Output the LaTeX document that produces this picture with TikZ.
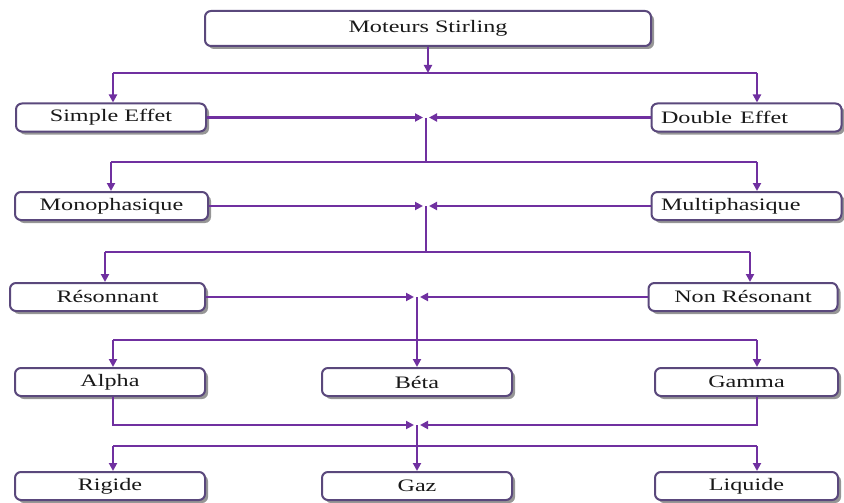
\documentclass[tikz,border=0pt]{standalone}
\usepackage{fontspec}
\setmainfont{Liberation Serif}
\usepackage{graphicx}
\usetikzlibrary{
    arrows.meta,
    shadows,
    positioning
}
\definecolor{linkpurple}{RGB}{112,48,160}
\definecolor{boxborder}{RGB}{90,72,124}
\definecolor{boxshadow}{RGB}{150,150,150}
\newcommand{\hstretch}[1]{\scalebox{1.38}[1]{#1}}
\tikzset{
    % Box styles
    type box/.style={
        draw=boxborder,
        fill=white,
        line width=2pt,
        rounded corners=6pt,
        minimum height=28pt,
        minimum width=190pt,
        inner sep=0pt,
        text=black!90,
        font=\fontsize{17.5}{20}\selectfont,
        drop shadow={shadow xshift=3pt, shadow yshift=-3pt, fill=boxshadow, opacity=1}
    },
    left text/.style={
        inner xsep=6pt,
        text width=#1,
        align=left
    },
    % Arrow styles
    link/.style={
        linkpurple,
        line width=2.2pt
    },
    link arrow/.style={
        link,
        -{Triangle[length=8pt,width=8pt]}
    }
}

\begin{document}
\begin{tikzpicture}[x=1pt,y=-1pt]
        \useasboundingbox (0,0) rectangle (844,503);

        % Define nodes
        \node[type box, minimum width=446pt, minimum height=35pt] (stirling) at (428,28.5) {\hstretch{Moteurs Stirling}};
        \node[type box] (simple) at (111,117.5) {\hstretch{Simple Effet}};
        \node[type box, left text=171pt] (double) at (746.5,117.5) {\hstretch{Double Effet}};
        \node[type box, minimum width=193pt] (mono) at (111.5,206) {\hstretch{Monophasique}};
        \node[type box, left text=171pt] (multi) at (746.5,206) {\hstretch{Multiphasique}};
        \node[type box, minimum width=195pt] (reson) at (107.5,297) {\hstretch{Résonnant}};
        \node[type box, minimum width=189pt] (nonreson) at (743,297) {\hstretch{Non Résonant}};
        \foreach \name/\x/\w/\label in {alpha/110/190/Alpha, beta/417/190/Béta, gamma/746.5/183/Gamma} {
            \node[type box, minimum width=\w pt] (\name) at (\x,382) {\hstretch{\label}};
        }
        \foreach \name/\x/\w/\label in {rigide/110/190/Rigide, gaz/417/190/Gaz, liquide/746.5/183/Liquide} {
            \node[type box, minimum width=\w pt] (\name) at (\x,486) {\hstretch{\label}};
        }

        % Bus and junction points
        \coordinate (b1) at (428,73);
        \coordinate (b1l) at (113,73);
        \coordinate (b1r) at (757,73);
        \coordinate (j1) at (426,117.5);
        \coordinate (b2) at (426,162);
        \coordinate (b2l) at (111,162);
        \coordinate (b2r) at (757,162);
        \coordinate (j2) at (426,206);
        \coordinate (b3) at (426,252);
        \coordinate (b3l) at (105,252);
        \coordinate (b3r) at (750,252);
        \coordinate (j3) at (417,297);
        \coordinate (b4l) at (113,340);
        \coordinate (b4r) at (757,340);
        \coordinate (j4) at (417,425);
        \coordinate (b5l) at (113,446);
        \coordinate (b5r) at (757,446);

        % Draw edges
        \draw[link arrow] (stirling) -- (b1);
        \draw[link] (b1l) -- (b1r);
        \draw[link arrow] (b1l) -- (b1l |- simple.north);
        \draw[link arrow] (b1r) -- (b1r |- double.north);

        \foreach \l/\r/\j in {simple/double/j1, mono/multi/j2, reson/nonreson/j3} {
            \draw[link arrow] (\l) -- ([xshift=-3pt]\j);
            \draw[link arrow] (\r) -- ([xshift=3pt]\j);
        }

        \draw[link] (j1) -- (b2);
        \draw[link] (b2l) -- (b2r);
        \draw[link arrow] (b2l) -- (b2l |- mono.north);
        \draw[link arrow] (b2r) -- (b2r |- multi.north);

        \draw[link] (j2) -- (b3);
        \draw[link] (b3l) -- (b3r);
        \draw[link arrow] (b3l) -- (b3l |- reson.north);
        \draw[link arrow] (b3r) -- (b3r |- nonreson.north);

        \draw[link arrow] (j3) -- (beta);
        \draw[link] (b4l) -- (b4r);
        \draw[link arrow] (b4l) -- (b4l |- alpha.north);
        \draw[link arrow] (b4r) -- (b4r |- gamma.north);

        % Merge of the three types
        \draw[link arrow] (alpha.south -| b4l) |- ([xshift=-3pt]j4);
        \draw[link arrow] (gamma.south -| b4r) |- ([xshift=3pt]j4);
        \draw[link arrow] (j4) -- (gaz);
        \draw[link] (b5l) -- (b5r);
        \draw[link arrow] (b5l) -- (b5l |- rigide.north);
        \draw[link arrow] (b5r) -- (b5r |- liquide.north);
    \end{tikzpicture}
\end{document}
